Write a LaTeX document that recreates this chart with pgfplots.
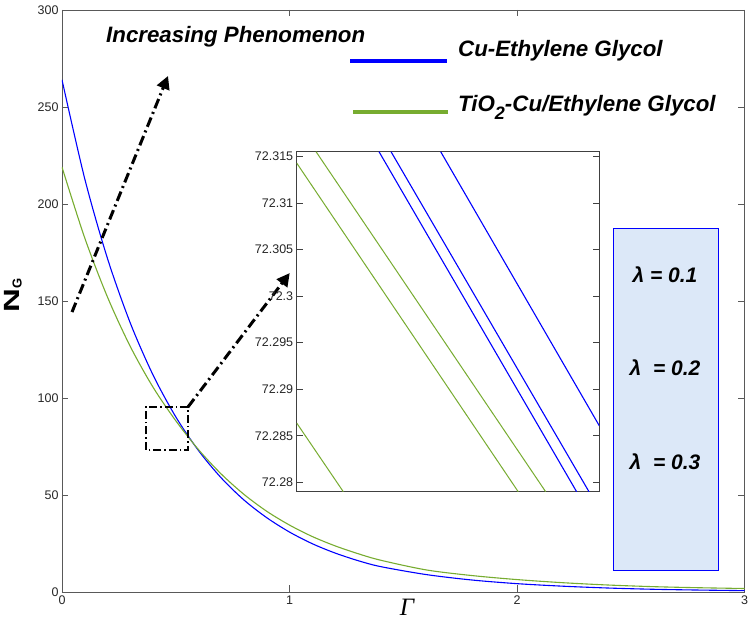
\documentclass[border=0pt]{standalone}
\usepackage{pgfplots}
\pgfplotsset{compat=1.18}
\usepackage{fontspec}
\setmainfont{Liberation Sans}
\newfontfamily\serifit{Liberation Serif}
\usetikzlibrary{arrows.meta}
\definecolor{cblue}{RGB}{0,0,255}
\definecolor{cgreen}{RGB}{119,172,48}
\definecolor{boxfill}{RGB}{220,232,248}
\begin{document}
\begin{tikzpicture}[x=1pt,y=1pt]
\begin{axis}[
  at={(0pt,0pt)}, anchor=south west,
  width=682.5pt, height=582pt, scale only axis,
  xmin=0, xmax=3, ymin=0, ymax=300,
  xtick={0,1,2,3}, ytick={0,50,100,150,200,250,300},
  tick align=inside, major tick length=6.5pt,
  axis line style={black!65, line width=0.8pt},
  tick style={black!65, line width=0.8pt},
  ticklabel style={font=\fontsize{12.5}{14}\selectfont, text=black!85},
  /pgf/number format/assume math mode=true,
  xlabel={{\serifit\itshape\fontsize{25}{28}\selectfont Γ}},
  xlabel style={at={(axis description cs:0.5055,-0.0258)}, anchor=center},
  ylabel={{\fontsize{22}{25}\selectfont\bfseries \scalebox{1.5}[1]{N}\raisebox{-2pt}{\fontsize{13}{14}\selectfont G}}},
  ylabel style={at={(axis description cs:-0.0718,0.509)}, anchor=center},
]
\addplot[cblue, line width=1.1pt, smooth] coordinates {
(0,264) (0.1,213) (0.2,171.9) (0.3,138.7) (0.4,111.9) (0.5,90.3) (0.6,72.9) (0.7,58.8) (0.8,47.4) (0.9,38.3) (1.0,30.9) (1.1,24.9) (1.2,20.1) (1.3,16.2) (1.4,13.1) (1.6,9.0) (1.8,6.2) (2.0,4.3) (2.2,3.0) (2.4,2.05) (2.6,1.4) (2.8,1.0) (3.0,0.7)};
\addplot[cgreen, line width=1.1pt, smooth] coordinates {
(0,219) (0.1,182.5) (0.2,152) (0.3,126.6) (0.4,105.6) (0.5,88.3) (0.6,73.4) (0.7,60.8) (0.8,50.3) (0.9,41.6) (1.0,34.5) (1.1,28.6) (1.2,23.8) (1.3,19.8) (1.4,16.4) (1.6,11.4) (1.8,8.5) (2.0,6.4) (2.2,4.8) (2.4,3.6) (2.6,2.75) (2.8,2.2) (3.0,1.8)};
\draw[black, line width=3pt, dash pattern=on 10pt off 4pt on 2pt off 4pt, -{Triangle[length=13pt,width=13pt]}] (axis cs:0.044,144.3) -- (axis cs:0.466,266);
\draw[black, line width=3pt, dash pattern=on 10pt off 4pt on 2pt off 4pt, -{Triangle[length=13pt,width=13pt]}] (axis cs:0.554,95.4) -- (axis cs:1.001,164.4);
\draw[black, line width=1.2pt, dash pattern=on 8pt off 3pt on 1.5pt off 3pt] (axis cs:0.369,73.2) rectangle (axis cs:0.554,95.4);
\end{axis}
\begin{axis}[
  at={(234.7pt,100.3pt)}, anchor=south west,
  width=302.6pt, height=340pt, scale only axis,
  xmin=0, xmax=1, ymin=72.2790, ymax=72.3155,
  xtick=\empty,
  ytick={72.28,72.285,72.29,72.295,72.3,72.305,72.31,72.315},
  yticklabels={72.28,72.285,72.29,72.295,72.3,72.305,72.31,72.315},
  tick align=inside, major tick length=6pt,
  axis background/.style={fill=white},
  axis line style={black!75, line width=0.8pt},
  tick style={black!75, line width=0.8pt},
  ticklabel style={font=\fontsize{12.5}{14}\selectfont, text=black!85},
]
\addplot[cgreen, line width=1pt] coordinates {(0,72.31428) (0.732,72.2790)};
\addplot[cgreen, line width=1pt] coordinates {(0.0639,72.3155) (0.8227,72.2790)};
\addplot[cgreen, line width=1pt] coordinates {(0,72.28637) (0.154,72.2790)};
\addplot[cblue, line width=1.1pt] coordinates {(0.272,72.3155) (0.925,72.2790)};
\addplot[cblue, line width=1.1pt] coordinates {(0.3117,72.3155) (0.9659,72.2790)};
\addplot[cblue, line width=1.1pt] coordinates {(0.4758,72.3155) (1,72.28608)};
\end{axis}
% annotations
\node[anchor=base west, inner sep=0pt, font=\fontsize{22.3}{25}\selectfont\bfseries\itshape] at (44,549) {Increasing Phenomenon};
\draw[cblue, line width=4.5pt] (288,531) -- (385,531);
\draw[cgreen, line width=4.5pt] (291,480) -- (386,480);
\node[anchor=base west, inner sep=0pt, font=\fontsize{22.3}{25}\selectfont\bfseries\itshape] at (396,535.3) {Cu-Ethylene Glycol};
\node[anchor=base west, inner sep=0pt, font=\fontsize{22.3}{25}\selectfont\bfseries\itshape] at (396,480.3) {TiO\raisebox{-8pt}{\fontsize{18}{20}\selectfont 2}-Cu/Ethylene Glycol};
\draw[cblue, line width=1.5pt, fill=boxfill] (551.3,21.3) rectangle (656.7,363.7);
\node[font=\fontsize{21}{24}\selectfont\bfseries\itshape] at (603,317) {λ = 0.1};
\node[font=\fontsize{21}{24}\selectfont\bfseries\itshape] at (603,224) {λ \ = 0.2};
\node[font=\fontsize{21}{24}\selectfont\bfseries\itshape] at (603,130) {λ \ = 0.3};
\pgfresetboundingbox
\useasboundingbox (-62,-47) rectangle (687,592);
\end{tikzpicture}
\end{document}
